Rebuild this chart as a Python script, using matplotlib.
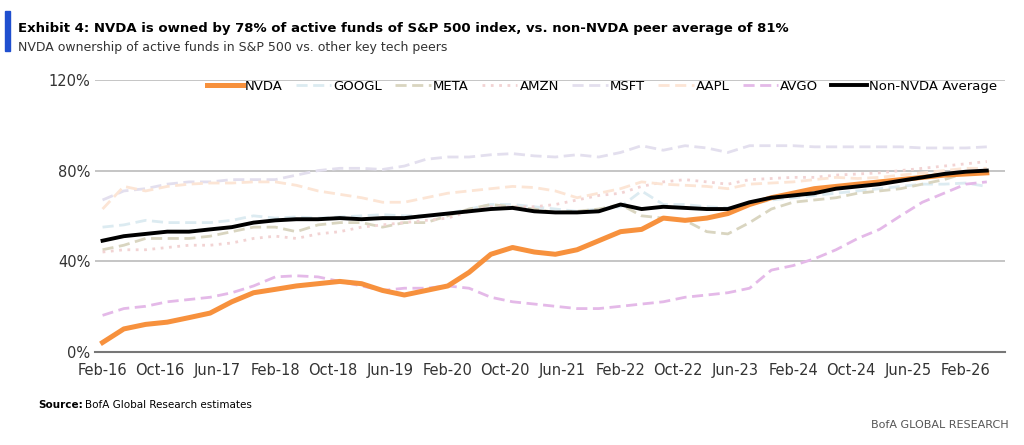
import matplotlib
matplotlib.use("Agg")
import matplotlib.pyplot as plt
import pandas as pd

dates = pd.date_range("2016-02-01", periods=42, freq="3MS")
nvda = [4,10,12,13,15,17,22,26,27.5,29,30,31,30,27,25,27,29,35,43,46,44,43,45,49,53,54,59,58,59,61,65,68,70,72,73,74,75,76,77,78,78.5,79]
avg = [49,51,52,53,53,54,55,57,58,58.5,58.5,59,58.5,59,59,60,61,62,63,63.5,62,61.5,61.5,62,65,63,64,63.5,63,63,66,68,69,70,72,73,74,75.5,77,78.5,79.5,80]
msft = [67,71,72,74,75,75,76,76,76,78,80,81,81,80.5,82,85,86,86,87,87.5,86.5,86,87,86,88,91,89,91,90,88,91,91,91,90.5,90.5,90.5,90.5,90.5,90,90,90,90.5]
aapl = [63,73,71,73,74,74.5,74.5,75,75,73.5,71,69.5,68,66,66,68,70,71,72,73,72.5,71,68,70,72,75,74,73.5,73,72,74,74.5,75,76,77,76.5,77,78,79,80,81,81]
googl = [55,56,58,57,57,57,58,60,59,59.5,59,59.5,60,60.5,60,60,61,63,65,65,64,63,62,63,64,71,65,65,64,63.5,65,67,68,69,70,71,72,73,74,74,74.5,73]
meta = [45,47,50,50,50,51,53,55,55,53,56,57,57,55,57,57,60,63,65,64,63,61.5,62,63,65,60,59,58,53,52,57,63,66,67,68,70,71,72,74,76,79,80]
amzn = [44,45,45,46,47,47,48,50,51,50,52,53,55,56,57,58,59,62,64,64,64,65,67,69,70,73,75,76,75,74,76,76.5,77,77,78,78.5,79,80,81,82,83,84]
avgo = [16,19,20,22,23,24,26,29,33,33.5,33,31,29,27,28,28,29,28,24,22,21,20,19,19,20,21,22,24,25,26,28,36,38,41,45,50,54,60,66,70,74,75]

fig = plt.figure(figsize=(10.24, 4.45), dpi=100)
ax = fig.add_axes([0.093, 0.21, 0.888, 0.61])
series = [
    ("NVDA", nvda, "#F7913D", "-", 3.6),
    ("GOOGL", googl, "#DCEBF1", (0, (4, 2)), 2.0),
    ("META", meta, "#D9D5C0", (0, (4, 2)), 2.0),
    ("AMZN", amzn, "#F2D3D3", (0, (1, 2)), 2.0),
    ("MSFT", msft, "#E3DFEE", (0, (4, 2)), 2.0),
    ("AAPL", aapl, "#FCE5D5", (0, (4, 2)), 2.0),
    ("AVGO", avgo, "#E4B9E8", (0, (4, 2)), 2.0),
    ("Non-NVDA Average", avg, "#000000", "-", 2.8),
]
for name, vals, c, ls, lw in series:
    z = 5 if name in ("NVDA", "Non-NVDA Average") else 3
    ax.plot(dates, vals, color=c, ls=ls, lw=lw, label=name, zorder=z)

ax.set_ylim(0, 120)
ax.set_yticks([0, 40, 80, 120])
ax.set_yticklabels(["0%", "40%", "80%", "120%"])
ax.set_xlim(pd.Timestamp("2016-01-01"), pd.Timestamp("2026-07-15"))
ticks = pd.date_range("2016-02-01", "2026-02-01", freq="8MS")
ax.set_xticks(ticks)
ax.set_xticklabels([d.strftime("%b-%y") for d in ticks])
ax.grid(axis="y", color="#BBBBBB", lw=1.2)
for s in ["top", "right", "left"]:
    ax.spines[s].set_visible(False)
ax.spines["bottom"].set_color("#777777")
ax.spines["bottom"].set_linewidth(1.5)
ax.tick_params(length=0, labelsize=10.5, colors="#333333")
ax.tick_params(axis="x", pad=8)
ax.legend(loc="upper right", bbox_to_anchor=(1.005, 1.045), ncol=8, frameon=False,
          fontsize=9.5, handlelength=2.7, columnspacing=1.0, handletextpad=0.15)

fig.patches.append(plt.Rectangle((0.005, 0.885), 0.005, 0.09, transform=fig.transFigure,
                                 color="#1F4FCF"))
fig.text(0.018, 0.935, "Exhibit 4: NVDA is owned by 78% of active funds of S&P 500 index, vs. non-NVDA peer average of 81%",
         fontsize=9.5, fontweight="bold", va="center")
fig.text(0.018, 0.893, "NVDA ownership of active funds in S&P 500 vs. other key tech peers",
         fontsize=9, va="center", color="#333333")
fig.text(0.037, 0.09, "Source:", fontsize=7.5, fontweight="bold", va="center")
fig.text(0.083, 0.09, "BofA Global Research estimates", fontsize=7.5, va="center")
fig.text(0.985, 0.045, "BofA GLOBAL RESEARCH", fontsize=8, ha="right", va="center", color="#555555")
fig.savefig("out.png", dpi=100)
